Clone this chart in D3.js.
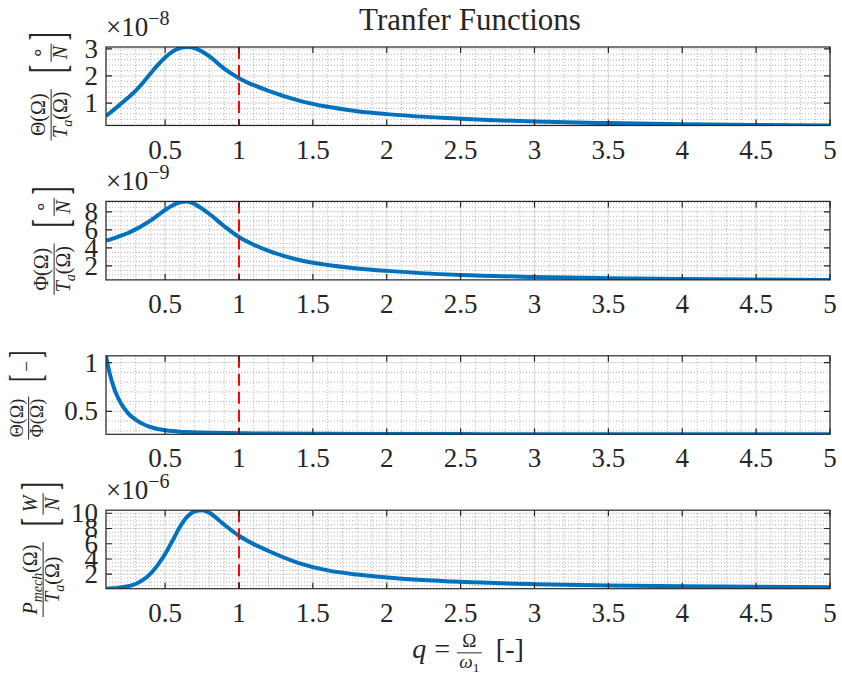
<!DOCTYPE html>
<html><head><meta charset="utf-8">
<script src="https://cdn.jsdelivr.net/npm/d3@7"></script>
<style>body{margin:0;background:#fff} svg{display:block}</style>
</head><body>
<svg id="c" width="842" height="675"></svg>
<script>
// ---------- data ----------
const q = [0.1,0.125,0.15,0.175,0.2,0.25,0.3,0.35,0.4,0.45,0.5,0.55,0.6,0.65,0.7,0.75,0.8,0.9,1.0,1.1,1.2,1.4,1.6,1.8,2.0,2.5,3.0,3.5,4.0,4.5,5.0];
// Theta/Ta  (x1e-8)
const thetaTa = [0.52,0.63,0.74,0.85,0.97,1.20,1.45,1.75,2.08,2.40,2.68,2.90,3.03,3.07,3.03,2.90,2.72,2.27,1.92,1.66,1.45,1.10,0.86,0.70,0.59,0.42,0.32,0.26,0.22,0.19,0.17];
// Phi/Ta (x1e-9)
const phiTa = [4.82,4.92,5.05,5.2,5.35,5.65,6.05,6.5,7.02,7.6,8.2,8.7,9.05,9.15,8.85,8.35,7.75,6.4,5.2,4.35,3.68,2.68,2.1,1.72,1.45,1.0,0.78,0.64,0.55,0.49,0.45];
// Theta/Phi
const thetaPhi = [1.07,0.89,0.76,0.66,0.585,0.48,0.415,0.37,0.34,0.32,0.307,0.298,0.292,0.288,0.285,0.283,0.281,0.278,0.276,0.274,0.273,0.271,0.27,0.269,0.268,0.267,0.266,0.266,0.265,0.265,0.265];
// Pmech/Ta (x1e-6)
const pmechTa = [0.1,0.12,0.15,0.19,0.25,0.42,0.72,1.25,2.05,3.2,4.65,6.4,8.2,9.55,10.25,10.4,10.05,8.5,7.05,5.95,5.05,3.5,2.5,1.95,1.58,1.0,0.7,0.53,0.42,0.35,0.3];

const xTickValues = [0.5,1,1.5,2,2.5,3,3.5,4,4.5,5];
const xTickLabels = ["0.5","1","1.5","2","2.5","3","3.5","4","4.5","5"];
const yTicks1 = [1,2,3], yTickLabels1 = ["1","2","3"];
const yTicks2 = [2,4,6,8], yTickLabels2 = ["2","4","6","8"];
const yTicks3 = [0.5,1], yTickLabels3 = ["0.5","1"];
const yTicks4 = [2,4,6,8,10], yTickLabels4 = ["2","4","6","8","10"];
const exponents = ["−8","−9",null,"−6"];
const titleText = "Tranfer Functions";
const refQ = 1;

// ---------- layout ----------
const FONT = "'Liberation Serif','Times New Roman',serif";
const svg = d3.select("#c").attr("font-family", FONT);
const L = 106, R = 830, top0 = 47, step = 154.4, H = 78.5;
const x = d3.scaleLinear().domain([0.1,5]).range([L,R]);
const xMinor = d3.range(0.1,5.0001,0.1);
const TICKFS = 27;

const panels = [
  {vals: thetaTa, ticks: yTicks1, labels: yTickLabels1, minor: 0.2, labRight: 75,
   ylab: {num:[{t:"Θ(Ω)"}], den:[{t:"T",i:1},{t:"a",i:1,sub:1},{t:"(Ω)"}], unum:[{t:"∘"}], uden:[{t:"N",i:1}], fs:20}},
  {vals: phiTa, ticks: yTicks2, labels: yTickLabels2, minor: 0.5, labRight: 78,
   ylab: {num:[{t:"Φ(Ω)"}], den:[{t:"T",i:1},{t:"a",i:1,sub:1},{t:"(Ω)"}], unum:[{t:"∘"}], uden:[{t:"N",i:1}], fs:20}},
  {vals: thetaPhi, ticks: yTicks3, labels: yTickLabels3, minor: 0.1, labRight: 50,
   ylab: {num:[{t:"Θ(Ω)"}], den:[{t:"Φ(Ω)"}], utext:"−", fs:18}},
  {vals: pmechTa, ticks: yTicks4, labels: yTickLabels4, minor: 0.5, labRight: 67,
   ylab: {num:[{t:"P",i:1},{t:"mech",i:1,sub:1},{t:"(Ω)"}], den:[{t:"T",i:1},{t:"a",i:1,sub:1},{t:"(Ω)"}], unum:[{t:"W",i:1}], uden:[{t:"N",i:1}], fs:20}}
];

function addRich(g, parts, xx, yy, fs) {
  const t = g.append("text").attr("x", xx).attr("y", yy).attr("font-size", fs).attr("fill","#262626");
  let off = 0;
  parts.forEach(p => {
    const s = t.append("tspan").text(p.t);
    const target = p.sub ? fs*0.25 : (p.sup ? -fs*0.4 : 0);
    if (target !== off) { s.attr("dy", target - off); off = target; }
    if (p.sub || p.sup) s.attr("font-size", fs*0.7);
    if (p.i) s.attr("font-style","italic");
  });
  return t;
}
function addFrac(g, x0, num, den, fs) {
  const n = addRich(g, num, 0, 0, fs), d = addRich(g, den, 0, 0, fs);
  const wn = n.node().getComputedTextLength(), wd = d.node().getComputedTextLength();
  const w = Math.max(wn, wd) + fs*0.25;
  const bar = -fs*0.27;
  n.attr("x", x0 + (w-wn)/2).attr("y", bar - fs*0.32);
  d.attr("x", x0 + (w-wd)/2).attr("y", bar + fs*0.78);
  g.append("line").attr("x1", x0).attr("x2", x0+w).attr("y1", bar).attr("y2", bar)
    .attr("stroke","#262626").attr("stroke-width",1);
  return w;
}
function addBracket(g, x0, ch, fs) {
  const B = fs*2.5, sx = 0.5;
  const gg = g.append("g").attr("transform", `translate(${x0},${-fs*0.27 + B*0.25}) scale(${sx},1)`);
  const t = gg.append("text").attr("font-size", B).attr("fill","#262626").text(ch);
  return t.node().getComputedTextLength()*sx;
}

panels.forEach((p, i) => {
  const top = top0 + i*step, bot = top + H;
  const [mn, mx] = d3.extent(p.vals);
  const y = d3.scaleLinear().domain([mn, mx]).range([bot, top]);
  const g = svg.append("g");
  g.append("rect").attr("x",L).attr("y",top).attr("width",R-L).attr("height",H).attr("fill","#fff");
  const clipId = "clip"+i;
  svg.append("clipPath").attr("id", clipId).append("rect").attr("x",L).attr("y",top).attr("width",R-L).attr("height",H);
  // minor grid
  const yMinor = d3.range(Math.ceil(mn/p.minor)*p.minor, mx+1e-9, p.minor).filter(v => !p.ticks.some(t => Math.abs(t-v)<1e-9));
  g.append("g").selectAll("line").data(xMinor.filter(v => !xTickValues.some(t=>Math.abs(t-v)<1e-9))).join("line")
    .attr("x1", d=>x(d)).attr("x2", d=>x(d)).attr("y1", top).attr("y2", bot)
    .attr("stroke","#262626").attr("stroke-opacity",0.45).attr("stroke-width",0.8).attr("stroke-dasharray","1,2");
  g.append("g").selectAll("line").data(yMinor).join("line")
    .attr("x1", L).attr("x2", R).attr("y1", d=>y(d)).attr("y2", d=>y(d))
    .attr("stroke","#262626").attr("stroke-opacity",0.45).attr("stroke-width",0.8).attr("stroke-dasharray","1,2");
  // major grid
  g.append("g").selectAll("line").data(xTickValues).join("line")
    .attr("x1", d=>x(d)).attr("x2", d=>x(d)).attr("y1", top).attr("y2", bot)
    .attr("stroke","#262626").attr("stroke-opacity",0.18).attr("stroke-width",1);
  g.append("g").selectAll("line").data(p.ticks).join("line")
    .attr("x1", L).attr("x2", R).attr("y1", d=>y(d)).attr("y2", d=>y(d))
    .attr("stroke","#262626").attr("stroke-opacity",0.18).attr("stroke-width",1);
  // data line
  const line = d3.line().x((d,k)=>x(q[k])).y(d=>y(d)).curve(d3.curveMonotoneX);
  g.append("path").datum(p.vals).attr("d", line).attr("fill","none")
    .attr("stroke","#0072BD").attr("stroke-width",4).attr("stroke-linejoin","round")
    .attr("clip-path", `url(#${clipId})`);
  // reference line
  g.append("line").attr("x1", x(refQ)).attr("x2", x(refQ)).attr("y1", top).attr("y2", bot)
    .attr("stroke","#FF0000").attr("stroke-width",2).attr("stroke-dasharray","12,6");
  // box
  g.append("rect").attr("x",L).attr("y",top).attr("width",R-L).attr("height",H)
    .attr("fill","none").attr("stroke","#262626").attr("stroke-width",1.2);
  // ticks
  const tl = 6;
  g.append("g").selectAll("path").data(xTickValues).join("path")
    .attr("d", d=>`M${x(d)},${bot}v${-tl}M${x(d)},${top}v${tl}`).attr("stroke","#262626").attr("stroke-width",1.2);
  g.append("g").selectAll("path").data(p.ticks).join("path")
    .attr("d", d=>`M${L},${y(d)}h${tl}M${R},${y(d)}h${-tl}`).attr("stroke","#262626").attr("stroke-width",1.2);
  // tick labels
  g.append("g").selectAll("text").data(xTickValues).join("text")
    .attr("x", d=>x(d)).attr("y", bot+33).attr("text-anchor","middle").attr("font-size",TICKFS).attr("fill","#262626")
    .text((d,k)=>xTickLabels[k]);
  g.append("g").selectAll("text").data(p.ticks).join("text")
    .attr("x", L-8).attr("y", d=>y(d)+9).attr("text-anchor","end").attr("font-size",TICKFS).attr("fill","#262626")
    .text((d,k)=>p.labels[k]);
  // exponent
  if (exponents[i]) {
    const t = g.append("text").attr("x", L).attr("y", top-11).attr("font-size",TICKFS).attr("fill","#262626");
    t.append("tspan").text("×10");
    t.append("tspan").attr("dy",-11).attr("font-size",20).text(exponents[i]);
  }
  // y label
  const lab = p.ylab, fs = lab.fs;
  const outer = g.append("g"), inner = outer.append("g");
  let cx = 0;
  cx += addFrac(inner, cx, lab.num, lab.den, fs);
  cx += fs*0.8;
  cx += addBracket(inner, cx, "[", fs) + fs*0.15;
  if (lab.utext) {
    const t = addRich(inner, [{t:lab.utext}], cx, 0, fs*1.1);
    cx += t.node().getComputedTextLength() + fs*0.15;
  } else {
    cx += addFrac(inner, cx, lab.unum, lab.uden, fs) + fs*0.15;
  }
  addBracket(inner, cx, "]", fs);
  const bb = inner.node().getBBox();
  const C = (top+bot)/2;
  outer.attr("transform", `translate(${p.labRight - bb.y - bb.height},${C + bb.x + bb.width/2}) rotate(-90)`);
});

// title
svg.append("text").attr("x",(L+R)/2 + 2).attr("y",30).attr("text-anchor","middle").attr("font-size",31)
  .attr("fill","#262626").text(titleText);

// x label
{
  const g = svg.append("g"), inner = g.append("g");
  let cx = 0;
  const fs = 28;
  const tq = addRich(inner, [{t:"q",i:1}], cx, 0, fs);
  cx += tq.node().getComputedTextLength() + 8;
  const te = addRich(inner, [{t:"="}], cx, 0, fs);
  cx += te.node().getComputedTextLength() + 7;
  cx += addFrac(inner, cx, [{t:"Ω"}], [{t:"ω",i:1},{t:"1",sub:1}], 19);
  cx += 14;
  const t2 = addRich(inner, [{t:"[-]"}], cx, 0, fs);
  cx += t2.node().getComputedTextLength();
  g.attr("transform", `translate(${(L+R)/2 - cx/2},658)`);
}
</script>
</body></html>
